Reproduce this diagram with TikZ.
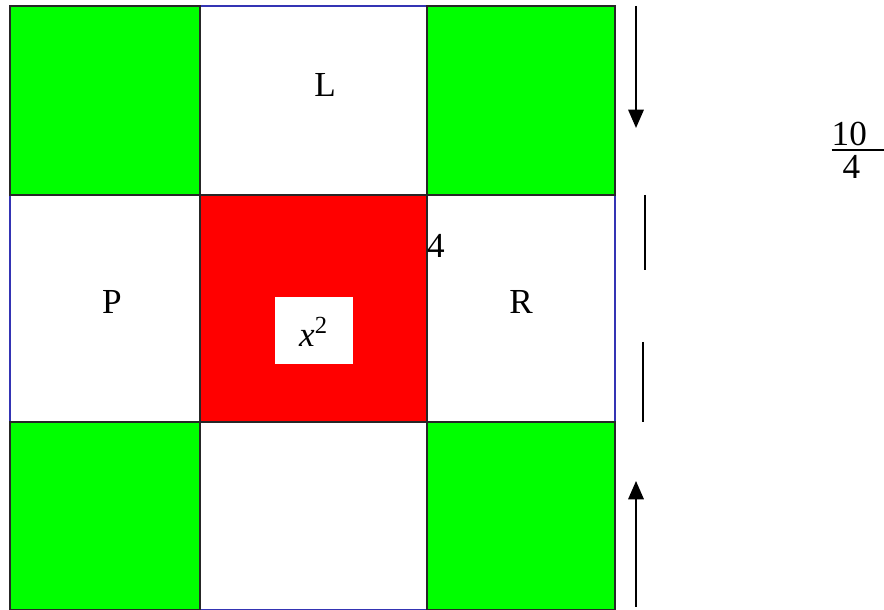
\documentclass[tikz,border=0pt]{standalone}
\usepackage{amsmath}
\usepackage{fontspec}
\setmainfont{Liberation Serif}
\usetikzlibrary{arrows.meta, positioning}
\tikzset{>={Triangle[width=4.4pt,length=5.2pt]}}
\definecolor{mygreen}{HTML}{00FF00}
\definecolor{myred}{HTML}{FF0000}
\definecolor{myblue}{HTML}{3434B4}
\tikzset{cell/.style={draw=black!85, line width=0.35pt}}

\begin{document}
\begin{tikzpicture}
			\useasboundingbox (0,0) rectangle (8.84,6.10);
			% outer square
			\draw [myblue, line width=0.35pt] (0.10,0) rectangle (6.15,6.04);
			% corner squares
			\draw [cell, fill=mygreen] (0.10,4.15) rectangle (2.00,6.04);
			\draw [cell, fill=mygreen] (4.27,4.15) rectangle (6.15,6.04);
			\draw [cell, fill=mygreen] (0.10,0) rectangle (2.00,1.88);
			\draw [cell, fill=mygreen] (4.27,0) rectangle (6.15,1.88);
			% middle square
			\draw [cell, fill=myred] (2.00,1.88) rectangle (4.27,4.15);
			\fill [white] (2.75,2.46) rectangle (3.53,3.13);
			\node (L) at (3.25,5.25) {L};
			\node (P) at (1.12,3.08) {P};
			\node (R) at (5.21,3.08) {R};
			\node (side) at (4.36,3.64) {4};
			\node (area) at (3.14,2.78) {\textit{x}\textsuperscript{2}};
			\node (ratio) [inner sep=0pt, anchor=west] at (8.31,4.595) {\renewcommand{\arraystretch}{0}%
				\begin{tabular}{@{}c@{}}\rule[-1.1pt]{0pt}{7.7pt}10\hphantom{0}\\ \hline \rule{0pt}{8pt}\hspace{1.2pt}4\hphantom{0}\end{tabular}};
			% arrows and bars
			\coordinate (downA) at (6.36,6.04);
			\coordinate (downB) at (6.36,4.82);
			\coordinate (upA) at (6.36,0.03);
			\coordinate (upB) at (6.36,1.29);
			\draw [->, line width=0.5pt] (downA) -- (downB);
			\draw [->, line width=0.5pt] (upA) -- (upB);
			\draw [line width=0.5pt] (6.45,4.15) -- (6.45,3.40);
			\draw [line width=0.5pt] (6.43,2.68) -- (6.43,1.88);
		\end{tikzpicture}
\end{document}
